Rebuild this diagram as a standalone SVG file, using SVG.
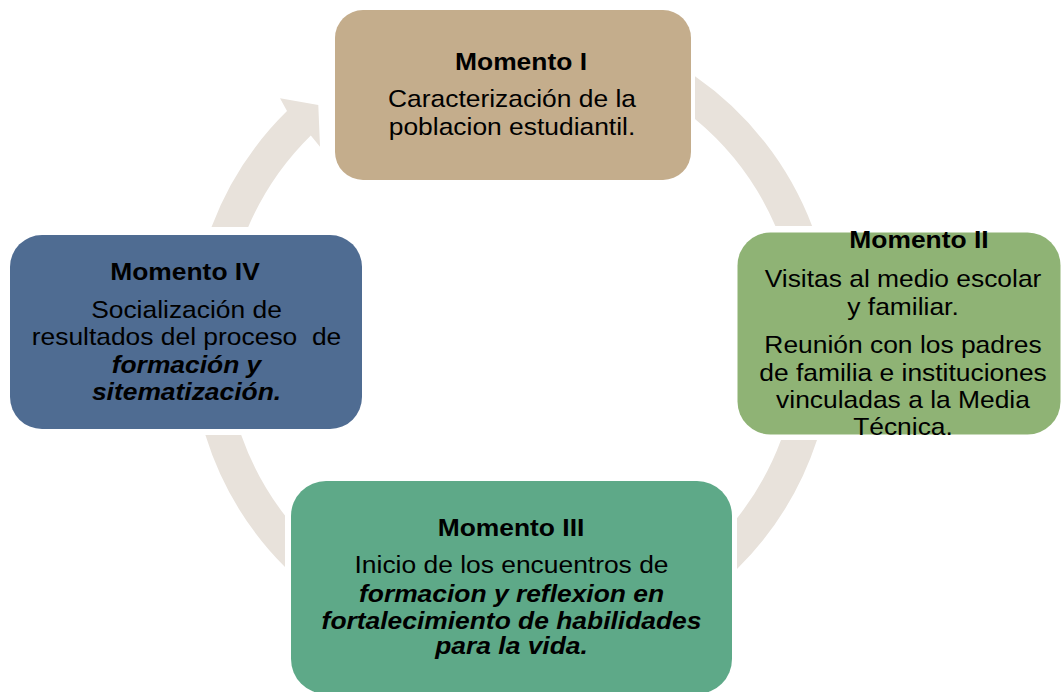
<svg xmlns="http://www.w3.org/2000/svg" width="1061" height="692" viewBox="0 0 1061 692">
<style>
.ring{fill:#E8E2DB;stroke:none}
.box{stroke:none}
text{font-family:"Liberation Sans",Arial,sans-serif;font-size:24px;fill:#000;text-anchor:middle}
.h{font-weight:bold}
.bi{font-weight:bold;font-style:italic}
</style>
<rect width="1061" height="692" fill="#fff"/>
<g id="connectors">
<path class="ring" d="M211.5,227 A321,321 0 0 1 287,111.1 L280,98.3 L318.3,105 L320,146.7 L310.8,135.4 A287,287 0 0 0 248.2,227 Z"/>
<path class="ring" d="M695,76.3 A321,321 0 0 1 812.1,226 L775.4,226 A287,287 0 0 0 695,119 Z"/>
<path class="ring" d="M817,440 A321,321 0 0 1 737,568.9 L737,518.2 A287,287 0 0 0 781,440 Z"/>
<path class="ring" d="M285,567 A321,321 0 0 1 205.4,435 L241.2,435 A287,287 0 0 0 285,515.6 Z"/>
</g>
<g id="momento1">
<rect class="box" x="335" y="10" width="356" height="170" rx="28" fill="#C4AD8C"/>
<text class="h" transform="matrix(1.1 0 0 1 521 70)">Momento I</text>
<text transform="matrix(1.1 0 0 1 512 106.5)">Caracterización de la</text>
<text transform="matrix(1.1 0 0 1 512 135)">poblacion estudiantil.</text>
</g>
<g id="momento2">
<rect class="box" x="737.5" y="232.5" width="323" height="202" rx="33" fill="#8FB375"/>
<text class="h" transform="matrix(1.1 0 0 1 919 247.5)">Momento II</text>
<text transform="matrix(1.1 0 0 1 903 286.5)">Visitas al medio escolar</text>
<text transform="matrix(1.1 0 0 1 903 314.5)">y familiar.</text>
<text transform="matrix(1.1 0 0 1 903 353)">Reunión con los padres</text>
<text transform="matrix(1.1 0 0 1 903 381)">de familia e instituciones</text>
<text transform="matrix(1.1 0 0 1 903 408)">vinculadas a la Media</text>
<text transform="matrix(1.1 0 0 1 903 435)">Técnica.</text>
</g>
<g id="momento3">
<rect class="box" x="291" y="481" width="441" height="213" rx="35" fill="#5EA988"/>
<text class="h" transform="matrix(1.1 0 0 1 511 536)">Momento III</text>
<text transform="matrix(1.1 0 0 1 511.5 573)">Inicio de los encuentros de</text>
<text class="bi" transform="matrix(1.1 0 0 1 511.5 601.5)">formacion y reflexion en</text>
<text class="bi" transform="matrix(1.1 0 0 1 511.5 628.5)">fortalecimiento de habilidades</text>
<text class="bi" transform="matrix(1.1 0 0 1 511.5 653.5)">para la vida.</text>
</g>
<g id="momento4">
<rect class="box" x="10" y="235" width="352" height="194" rx="32" fill="#4F6C92"/>
<text class="h" transform="matrix(1.1 0 0 1 185 280)">Momento IV</text>
<text transform="matrix(1.1 0 0 1 186.5 318)">Socialización de</text>
<text transform="matrix(1.1 0 0 1 186.5 345)" style="white-space:pre">resultados del proceso  de</text>
<text class="bi" transform="matrix(1.1 0 0 1 186.5 373)">formación y</text>
<text class="bi" transform="matrix(1.1 0 0 1 186.5 400)">sitematización.</text>
</g>
</svg>
